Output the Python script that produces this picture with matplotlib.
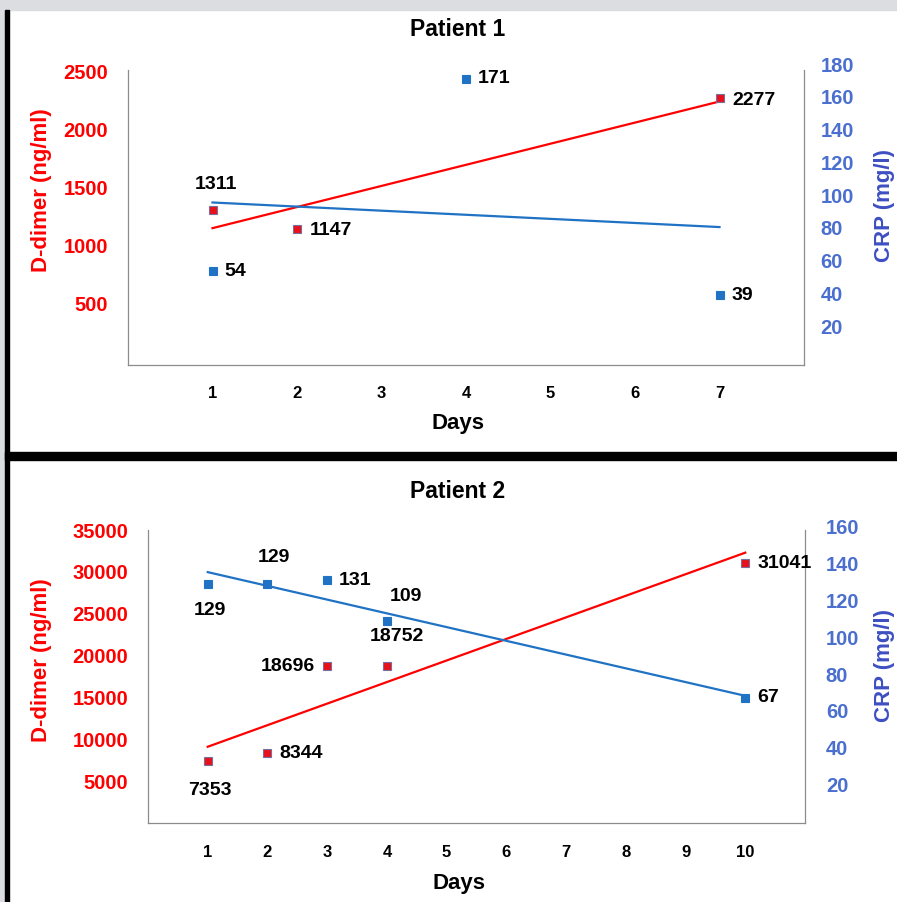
import numpy as np
import matplotlib
matplotlib.use("Agg")
import matplotlib.pyplot as plt
from matplotlib.patches import Rectangle

plt.rcParams['font.family'] = ['Liberation Sans', 'DejaVu Sans']
plt.rcParams['font.weight'] = 'bold'

# ---------------- data ----------------
p1_days_dd = [1, 2, 7]
p1_ddimer = [1311, 1147, 2277]
p1_days_crp = [1, 4, 7]
p1_crp = [54, 171, 39]
p1_xticks = [1, 2, 3, 4, 5, 6, 7]
p1_left_ticks = [500, 1000, 1500, 2000, 2500]
p1_right_ticks = [20, 40, 60, 80, 100, 120, 140, 160, 180]

p2_days = [1, 2, 3, 4, 10]
p2_ddimer = [7353, 8344, 18696, 18752, 31041]
p2_crp = [129, 129, 131, 109, 67]
p2_xticks = [1, 2, 3, 4, 5, 6, 7, 8, 9, 10]
p2_left_ticks = [5000, 10000, 15000, 20000, 25000, 30000, 35000]
p2_right_ticks = [20, 40, 60, 80, 100, 120, 140, 160]

RED = '#ff0000'
BLUE = '#1f72c4'
TICKBLUE = '#4a6fcf'
LABBLUE = '#3d4fc2'
SPINE = '#8c8c8c'

W, H = 897, 902
fig = plt.figure(figsize=(W / 100, H / 100), dpi=100)

# background decorations
fig.patches.append(Rectangle((0, 1 - 10 / H), 1, 10 / H, transform=fig.transFigure,
                             color='#dcdde0', zorder=0))
fig.patches.append(Rectangle((0, 0), 5 / W, 1, transform=fig.transFigure,
                             color='#dcdde0', zorder=0))
fig.patches.append(Rectangle((5 / W, 0), 4 / W, 1 - 10 / H, transform=fig.transFigure,
                             color='black', zorder=1))
fig.patches.append(Rectangle((5 / W, 1 - 460 / H), 1, 8 / H, transform=fig.transFigure,
                             color='black', zorder=1))


def fig_ax(l, t, r, b):
    return fig.add_axes([l / W, 1 - b / H, (r - l) / W, (b - t) / H])


def ftext(x, y, s, **kw):
    fig.text(x / W, 1 - y / H, s, ha='center', va='center', fontweight='bold', **kw)


def main_axes(box, xticks, lticks, xlim, ylim, lpad, xpad):
    ax = fig_ax(*box)
    ax.set_xlim(*xlim)
    ax.set_ylim(*ylim)
    ax.spines['top'].set_visible(False)
    for s in ('left', 'right', 'bottom'):
        ax.spines[s].set_color(SPINE)
        ax.spines[s].set_linewidth(0.9)
    ax.set_xticks(xticks)
    ax.set_xticklabels([str(v) for v in xticks], fontsize=12, fontweight='bold')
    ax.set_yticks(lticks)
    ax.set_yticklabels([str(v) for v in lticks], fontsize=14.5, fontweight='bold', color=RED)
    ax.tick_params(axis='y', length=0, pad=lpad)
    ax.tick_params(axis='x', length=0, pad=xpad)
    return ax


def right_axes(box, rticks, xlim, ylim, rpad):
    ax = fig_ax(*box)
    ax.patch.set_visible(False)
    for s in ax.spines.values():
        s.set_visible(False)
    ax.set_xlim(*xlim)
    ax.set_ylim(*ylim)
    ax.set_xticks([])
    ax.yaxis.tick_right()
    ax.set_yticks(rticks)
    ax.set_yticklabels([str(v) for v in rticks], fontsize=14.5, fontweight='bold', color=TICKBLUE)
    ax.tick_params(axis='y', length=0, pad=rpad)
    return ax


def trend(ax, x, y, color):
    k, c = np.polyfit(x, y, 1)
    xs = np.array([min(x), max(x)])
    ax.plot(xs, k * xs + c, color=color, lw=1.6, zorder=2, clip_on=False)


def pts(ax, x, y, color, edge):
    ax.plot(x, y, 's', color=color, markersize=6, markeredgecolor=edge,
            markeredgewidth=0.8, zorder=3, clip_on=False)


def lab(ax, x, y, text, dx, dy, ha):
    ax.annotate(text, (x, y), xytext=(dx, dy), textcoords='offset pixels',
                ha=ha, va='center', fontsize=14, fontweight='bold', color='black', zorder=4)


# ---------------- Patient 1 ----------------
ax1 = main_axes((128, 70, 804, 365), p1_xticks, p1_left_ticks, (0, 8), (-26, 2517), 14.4, 15)
ax1b = right_axes((128, 64, 804, 359), p1_right_ticks, (0, 8), (0, 180), 12)
trend(ax1, p1_days_dd, p1_ddimer, RED)
trend(ax1b, p1_days_crp, p1_crp, BLUE)
pts(ax1, p1_days_dd, p1_ddimer, '#e8101a', '#7a6f9a')
pts(ax1b, p1_days_crp, p1_crp, BLUE, BLUE)
lab(ax1, p1_days_dd[0], p1_ddimer[0], str(p1_ddimer[0]), 3, 25, 'center')
lab(ax1, p1_days_dd[1], p1_ddimer[1], str(p1_ddimer[1]), 13, -2, 'left')
lab(ax1, p1_days_dd[2], p1_ddimer[2], str(p1_ddimer[2]), 13, -3, 'left')
lab(ax1b, p1_days_crp[0], p1_crp[0], str(p1_crp[0]), 12, -1, 'left')
lab(ax1b, p1_days_crp[1], p1_crp[1], str(p1_crp[1]), 12, 0, 'left')
lab(ax1b, p1_days_crp[2], p1_crp[2], str(p1_crp[2]), 12, 0, 'left')
ftext(458, 30, 'Patient 1', fontsize=16.5)
ftext(458, 423, 'Days', fontsize=16)
ftext(41, 190, 'D-dimer (ng/ml)', fontsize=16, color=RED, rotation=90)
ftext(884, 206, 'CRP (mg/l)', fontsize=16, color=LABBLUE, rotation=90)

# ---------------- Patient 2 ----------------
ax2 = main_axes((148, 530, 805, 823), p2_xticks, p2_left_ticks, (0, 11), (0, 35000), 14.4, 16)
ax2b = right_axes((148, 527, 805, 821), p2_right_ticks, (0, 11), (0, 160), 15)
trend(ax2, p2_days, p2_ddimer, RED)
trend(ax2b, p2_days, p2_crp, BLUE)
pts(ax2, p2_days, p2_ddimer, '#e8101a', '#7a6f9a')
pts(ax2b, p2_days, p2_crp, BLUE, BLUE)
lab(ax2, p2_days[0], p2_ddimer[0], str(p2_ddimer[0]), 2, -29, 'center')
lab(ax2, p2_days[1], p2_ddimer[1], str(p2_ddimer[1]), 12, 0, 'left')
lab(ax2, p2_days[2], p2_ddimer[2], str(p2_ddimer[2]), -12, 0, 'right')
lab(ax2, p2_days[3], p2_ddimer[3], str(p2_ddimer[3]), 10, 30, 'center')
lab(ax2, p2_days[4], p2_ddimer[4], str(p2_ddimer[4]), 12, 0, 'left')
lab(ax2b, p2_days[0], p2_crp[0], str(p2_crp[0]), 2, -27, 'center')
lab(ax2b, p2_days[1], p2_crp[1], str(p2_crp[1]), 6, 26, 'center')
lab(ax2b, p2_days[2], p2_crp[2], str(p2_crp[2]), 12, 0, 'left')
lab(ax2b, p2_days[3], p2_crp[3], str(p2_crp[3]), 19, 24, 'center')
lab(ax2b, p2_days[4], p2_crp[4], str(p2_crp[4]), 12, 0, 'left')
ftext(458, 491, 'Patient 2', fontsize=16.5)
ftext(459, 883, 'Days', fontsize=16)
ftext(41, 660, 'D-dimer (ng/ml)', fontsize=16, color=RED, rotation=90)
ftext(884, 665, 'CRP (mg/l)', fontsize=16, color=LABBLUE, rotation=90)

fig.savefig('out.png', dpi=100)
